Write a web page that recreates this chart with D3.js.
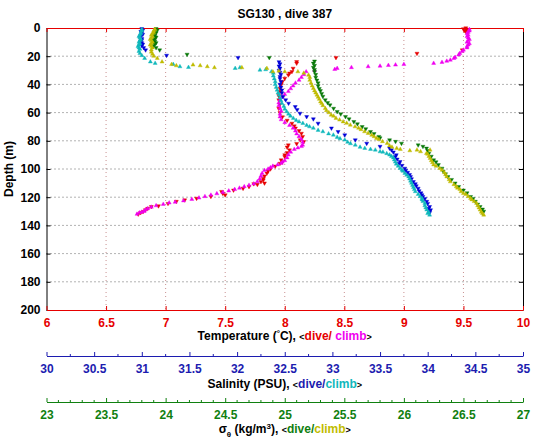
<!DOCTYPE html>
<html><head><meta charset="utf-8">
<script src="https://d3js.org/d3.v7.min.js"></script>
<style>
body{margin:0;background:#fff}
svg text{font-family:"Liberation Sans",Arial,Helvetica,sans-serif;font-weight:bold}
</style></head>
<body><svg id="c" width="535" height="442"></svg>
<script>
// ---------------- DATA (depth m, value) ----------------
const titleText = "SG130 , dive 387";
const tempTicks = [6,6.5,7,7.5,8,8.5,9,9.5,10];
const salTicks = [30,30.5,31,31.5,32,32.5,33,33.5,34,34.5,35];
const sigTicks = [23,23.5,24,24.5,25,25.5,26,26.5,27];
const depthTicks = [0,20,40,60,80,100,120,140,160,180,200];

const tempDive = [[0,9.52],[0.6,9.50],[1.2,9.53],[1.8,9.51],[2.5,9.52],[15.6,9.49],[18,9.11],[21,8.43],[23.9,8.10],[25,8.10],[28.6,8.07],[31,8.06],[32,8.04],[33.3,8.03],[35.7,8.00],[38,7.98],[40,7.97],[42.8,7.96],[45,7.96],[48,7.95],[51,7.95],[54,7.96],[57,7.95],[60,7.96],[63,7.98],[65.5,8.02],[67.6,8.06],[69.5,8.08],[71,8.09],[72.8,8.12],[74.7,8.14],[77,8.15],[79.4,8.13],[80.6,8.16],[82,8.10],[83,8.03],[84.5,8.02],[86.5,8.04],[88.5,8.02],[90,8.00],[91.3,8.00],[93.6,7.97],[95,7.98],[96,7.96],[98,7.92],[100,7.88],[101.5,7.86],[103,7.85],[105,7.83],[106.6,7.82],[107.8,7.82],[109,7.80],[110,7.83],[110.5,7.74],[111,7.77],[112.5,7.70],[113.7,7.65],[115,7.57],[116,7.47],[117.3,7.48],[118.4,7.50],[119.5,7.38],[120.8,7.26],[122,7.16],[123,7.09],[124.5,7.02],[126.2,6.94],[126.7,6.88],[128,6.85],[129,6.83],[130.3,6.81],[131,6.79],[132,6.77]];

const tempClimb = [[132,6.76],[131,6.78],[130.5,6.80],[130,6.82],[129,6.83],[128,6.85],[127,6.88],[126,6.92],[125,6.98],[124,7.03],[123.5,7.08],[122.5,7.15],[121.5,7.22],[120.5,7.28],[119.5,7.33],[118.5,7.38],[117.5,7.43],[116.5,7.48],[115.5,7.53],[114.5,7.58],[113.5,7.62],[112.5,7.66],[111.5,7.70],[110.5,7.74],[109,7.77],[107,7.79],[105,7.80],[103,7.81],[101,7.83],[100,7.86],[99,7.88],[98,7.90],[97,7.94],[96,7.97],[95,7.98],[94,8.00],[92,8.02],[90,8.03],[88,8.05],[86,8.08],[85,8.11],[84,8.14],[83,8.15],[81,8.15],[79,8.14],[77,8.12],[75,8.10],[73,8.09],[71,8.07],[69,8.04],[67,8.00],[65,7.97],[63,7.96],[61,7.96],[59,7.97],[57,7.96],[55,7.95],[53,7.95],[51,7.96],[49,7.98],[47,8.00],[45,8.03],[43,8.05],[41,8.07],[39,8.09],[37,8.12],[35,8.14],[33,8.16],[31,8.18],[30,8.25],[29.3,8.42],[28.6,8.44],[28,8.56],[27.4,8.70],[27,8.80],[26.5,8.87],[26.2,8.93],[25.8,9.00],[25,9.25],[24.3,9.32],[23.5,9.36],[22.7,9.39],[21.5,9.42],[20.8,9.43],[19,9.46],[18,9.47],[16.5,9.49],[15.6,9.50],[14,9.53],[13,9.53],[12,9.54],[11,9.55],[10,9.53],[9,9.54],[8,9.55],[7,9.54],[6,9.53],[5,9.54],[4,9.53],[3,9.54],[2,9.55],[1,9.55]];

const salDive = [[0.5,31.00],[1.5,31.01],[2.5,30.99],[3.5,31.00],[4.5,31.01],[5.5,30.99],[6.5,30.98],[7.5,31.00],[8.5,31.00],[9.5,30.99],[10.5,31.00],[11.5,31.01],[12.5,31.00],[14,31.02],[15.6,31.04],[19.4,31.26],[21,32.01],[24,32.44],[25.5,32.45],[27,32.44],[28.5,32.45],[30,32.44],[31.5,32.45],[33,32.46],[34.5,32.45],[36,32.45],[38,32.46],[40,32.45],[42,32.46],[44,32.47],[46,32.47],[48.7,32.48],[51,32.51],[53.4,32.54],[55.8,32.61],[58,32.63],[60.5,32.66],[62.9,32.73],[64.5,32.80],[67.6,32.85],[71,32.99],[73.5,33.06],[75.9,33.13],[79.4,33.24],[81.8,33.36],[84,33.50],[85.3,33.60],[86.5,33.62],[88,33.64],[90,33.67],[91.3,33.66],[93,33.68],[94.8,33.71],[96,33.70],[97.5,33.73],[99.5,33.76],[101,33.77],[102.5,33.79],[104,33.81],[105.5,33.82],[107,33.83],[109,33.85],[110.5,33.87],[112,33.88],[113.7,33.90],[115.5,33.91],[117,33.93],[118.4,33.94],[119.6,33.95],[121,33.97],[123,33.99],[124.5,34.00],[126.7,34.02],[128,34.01],[129,34.03],[130,34.02],[131,34.02]];

const salClimb = [[132.6,34.02],[131.5,34.00],[130.5,34.01],[129,33.99],[127.5,33.98],[126,33.97],[124.3,33.97],[123,33.95],[121.8,33.94],[120.8,33.94],[119.5,33.92],[118,33.90],[116,33.87],[114.5,33.86],[113,33.85],[111.5,33.84],[110,33.83],[108.5,33.82],[107,33.81],[105.5,33.80],[104.3,33.78],[103,33.76],[101.5,33.74],[100.7,33.73],[99.5,33.71],[98,33.69],[96.5,33.67],[95,33.66],[93.5,33.65],[92,33.64],[91,33.62],[90,33.60],[89,33.57],[88,33.53],[87.7,33.50],[86.5,33.45],[86,33.40],[85.3,33.34],[84.5,33.29],[83,33.24],[82,33.19],[81,33.16],[79.4,33.13],[78.5,33.08],[77.5,33.05],[75.9,33.01],[75,32.96],[73.5,32.90],[72.5,32.85],[71,32.80],[70,32.76],[69,32.73],[67.6,32.69],[66.5,32.65],[65.5,32.62],[64,32.59],[62.5,32.56],[61,32.54],[59.3,32.52],[57.5,32.50],[55.5,32.49],[53.4,32.47],[51.5,32.46],[49.5,32.45],[47.5,32.44],[46,32.43],[44,32.42],[42,32.41],[40,32.40],[38,32.40],[36,32.39],[34,32.38],[32,32.38],[31,32.36],[29.5,32.30],[29.8,32.24],[28.1,32.03],[28.6,31.98],[27.9,31.49],[27.4,31.40],[25.8,31.33],[25,31.14],[24,31.09],[21.5,31.03],[19.5,31.00],[18,30.98],[16.5,30.97],[15,30.98],[14,30.97],[13,30.96],[12,30.97],[11,30.98],[10,30.97],[9,30.98],[8,30.99],[7,30.98],[6,30.97],[5,30.98],[4,30.99],[3,30.99],[2,31.00],[1,31.00]];

const sigDive = [[0.5,23.92],[1.5,23.93],[2.5,23.91],[3.5,23.92],[4.5,23.90],[5.5,23.91],[6.5,23.92],[7.5,23.91],[8.5,23.90],[9.5,23.91],[10.5,23.92],[11.5,23.91],[12.5,23.90],[14,23.92],[15.6,23.95],[18.7,24.18],[21,24.87],[23.5,25.25],[25,25.24],[26.5,25.25],[28,25.24],[29.5,25.25],[31,25.25],[33,25.26],[35,25.26],[37,25.27],[39,25.28],[41,25.28],[43,25.29],[44.5,25.30],[46.5,25.31],[48.5,25.32],[51,25.34],[53,25.36],[54.6,25.38],[57,25.41],[59.3,25.44],[61,25.47],[62.9,25.51],[64.5,25.54],[66.4,25.58],[68,25.61],[70,25.65],[71.5,25.68],[73.5,25.72],[75,25.75],[77,25.79],[78,25.80],[79.4,25.88],[80.5,25.93],[81.8,25.98],[83,26.12],[84,26.16],[85.3,26.19],[87,26.20],[88.9,26.21],[91,26.23],[93.6,26.25],[95,26.27],[97,26.29],[99.5,26.32],[101.5,26.33],[103.5,26.35],[105.5,26.37],[107.5,26.40],[110,26.43],[112.5,26.46],[115,26.50],[117,26.53],[119.6,26.56],[121,26.58],[123,26.60],[125,26.62],[126.7,26.64],[128.5,26.66],[130,26.67],[131,26.66]];

const sigClimb = [[132.6,26.67],[131.5,26.66],[130.5,26.65],[129,26.64],[127.5,26.63],[126,26.62],[124.3,26.61],[123,26.59],[121.8,26.57],[120.8,26.56],[119.5,26.54],[118,26.52],[117.3,26.50],[116,26.48],[114.5,26.47],[113.5,26.45],[112.5,26.44],[111,26.42],[109,26.39],[107.5,26.38],[105.5,26.36],[104,26.35],[102.5,26.34],[100.7,26.32],[99.5,26.30],[98,26.27],[97,26.25],[95.5,26.24],[94,26.23],[92.4,26.22],[91,26.21],[89.5,26.20],[88.9,26.19],[87.7,26.14],[87,26.05],[86.5,26.22],[86.5,26.11],[86,25.97],[85.3,25.94],[84.5,25.90],[83.5,25.88],[81.8,25.86],[80.5,25.82],[79,25.79],[78.2,25.77],[77,25.75],[76,25.73],[74.7,25.70],[73.5,25.67],[72,25.64],[71,25.62],[70,25.59],[68.8,25.55],[67.5,25.52],[66.5,25.49],[65.2,25.46],[64,25.43],[62.5,25.41],[61.7,25.39],[60,25.37],[58.5,25.35],[57,25.34],[55,25.32],[53.5,25.31],[52.3,25.30],[50.5,25.29],[49,25.28],[47.5,25.27],[46,25.26],[44.5,25.25],[42.8,25.24],[41,25.23],[39,25.22],[37,25.21],[35,25.21],[33.4,25.20],[32,25.16],[31,25.11],[31,25.00],[30.5,24.95],[31,24.90],[28.6,24.85],[28.1,24.64],[28.1,24.41],[27.4,24.35],[26.7,24.29],[26.2,24.23],[26.7,24.09],[25.8,24.05],[24,23.97],[21.5,23.93],[20,23.90],[18.5,23.89],[17,23.88],[15.5,23.88],[14,23.89],[13,23.88],[12,23.87],[11,23.88],[10,23.89],[9,23.88],[8,23.87],[7,23.88],[6,23.89],[5,23.88],[4,23.89],[3,23.90],[2,23.90],[1,23.91]];

// ---------------- LAYOUT ----------------
const X0 = 46.5, X1 = 523, Y0 = 28, Y1 = 310;
const ySal = 356, ySig = 402;
const cRed = "#e60000", cMag = "#f000f0", cBlue = "#0000d8", cCyan = "#10b8bc",
      cGreen = "#087808", cYel = "#c0bc00", cBlueAx = "#1c1cb0", cGreenAx = "#108010";

const svg = d3.select("#c");
svg.append("rect").attr("width",535).attr("height",442).attr("fill","#fff");

const tS = d3.scaleLinear().domain([6,10]).range([X0,X1]);
const sS = d3.scaleLinear().domain([30,35]).range([X0,X1]);
const gS = d3.scaleLinear().domain([23,27]).range([X0,X1]);
const yS = d3.scaleLinear().domain([0,200]).range([Y0,Y1]);

// grid
svg.append("g").selectAll("line").data(tempTicks.slice(1,-1)).join("line")
  .attr("x1",d=>tS(d)).attr("x2",d=>tS(d)).attr("y1",Y0).attr("y2",Y1)
  .attr("stroke","#c89090").attr("stroke-width",1).attr("stroke-dasharray","1,3");
svg.append("g").selectAll("line").data(depthTicks.slice(1,-1)).join("line")
  .attr("x1",X0).attr("x2",X1).attr("y1",d=>yS(d)).attr("y2",d=>yS(d))
  .attr("stroke","#666").attr("stroke-width",1).attr("stroke-dasharray","1,3");

function styleAxis(g, color, fs){
  g.attr("font-family",null).attr("font-size",null);
  g.select(".domain").attr("stroke",color).attr("stroke-width",1);
  g.selectAll(".tick line").attr("stroke",color);
  g.selectAll(".tick text").attr("fill",color).style("font-size",fs+"px");
}
const fmt = d=>String(d);

// left & right (black)
const gL = svg.append("g").attr("transform",`translate(${X0},0)`)
  .call(d3.axisLeft(yS).tickValues(depthTicks).tickSize(-4).tickSizeOuter(0).tickPadding(6).tickFormat(fmt));
styleAxis(gL,"#000",12);
const gR = svg.append("g").attr("transform",`translate(${X1},0)`)
  .call(d3.axisRight(yS).tickValues(depthTicks).tickSize(-4).tickSizeOuter(0).tickFormat(""));
styleAxis(gR,"#000",12);
// top & bottom (red)
const gT = svg.append("g").attr("transform",`translate(0,${Y0})`)
  .call(d3.axisTop(tS).tickValues(tempTicks).tickSize(-4).tickSizeOuter(0).tickFormat(""));
styleAxis(gT,cRed,12);
const gB = svg.append("g").attr("transform",`translate(0,${Y1})`)
  .call(d3.axisBottom(tS).tickValues(tempTicks).tickSize(-4).tickSizeOuter(0).tickPadding(8).tickFormat(fmt));
styleAxis(gB,cRed,12);

// salinity axis
const salMinor = d3.range(30.25,35,0.5);
svg.append("g").selectAll("line").data(salMinor).join("line")
  .attr("x1",d=>sS(d)).attr("x2",d=>sS(d)).attr("y1",ySal).attr("y2",ySal-2).attr("stroke",cBlueAx);
const gSal = svg.append("g").attr("transform",`translate(0,${ySal})`)
  .call(d3.axisBottom(sS).tickValues(salTicks).tickSize(-4).tickSizeOuter(0).tickPadding(8).tickFormat(fmt));
styleAxis(gSal,cBlueAx,12);

// sigma axis
const sigMinor = d3.range(231,270,1).filter(v=>v%5!==0).map(v=>v/10);
svg.append("g").selectAll("line").data(sigMinor).join("line")
  .attr("x1",d=>gS(d)).attr("x2",d=>gS(d)).attr("y1",ySig).attr("y2",ySig-2).attr("stroke",cGreenAx);
const gSig = svg.append("g").attr("transform",`translate(0,${ySig})`)
  .call(d3.axisBottom(gS).tickValues(sigTicks).tickSize(-4).tickSizeOuter(0).tickPadding(8).tickFormat(fmt));
styleAxis(gSig,cGreenAx,12);

// markers
const triUp = d3.symbol().type(d3.symbolTriangle).size(7)();
function drawSeries(data, scale, color, down){
  svg.append("g").selectAll("path").data(data).join("path")
    .attr("d",triUp)
    .attr("transform",d=>`translate(${scale(d[1])},${yS(d[0])})${down?" rotate(180)":""}`)
    .attr("fill",color).attr("stroke",color).attr("stroke-width",0.4);
}
drawSeries(tempDive,tS,cRed,true);
drawSeries(tempClimb,tS,cMag,false);
drawSeries(salDive,sS,cBlue,true);
drawSeries(salClimb,sS,cCyan,false);
drawSeries(sigDive,gS,cGreen,true);
drawSeries(sigClimb,gS,cYel,false);

// title
svg.append("text").attr("x",(X0+X1)/2).attr("y",18).attr("text-anchor","middle")
  .style("font-size","12px").attr("fill","#000").text(titleText);

// y label
svg.append("text").attr("transform",`translate(13,${(Y0+Y1)/2}) rotate(-90)`)
  .attr("text-anchor","middle").style("font-size","12px").text("Depth (m)");

// axis titles
function titled(y, parts){
  const t = svg.append("text").attr("x",(X0+X1)/2).attr("y",y).attr("text-anchor","middle").style("font-size","12px");
  parts.forEach(p=>{
    const s = t.append("tspan").text(p.t).attr("fill",p.c||"#000");
    if(p.fs) s.style("font-size",p.fs+"px");
    if(p.dy) s.attr("dy",p.dy);
  });
}
titled(340,[{t:"Temperature ("},{t:"°",fs:8,dy:-4},{t:"C), ",dy:4},{t:"<",fs:9},{t:"dive/",c:cRed},{t:" climb",c:cMag},{t:">",fs:9}]);
titled(388,[{t:"Salinity (PSU), "},{t:"<",fs:9},{t:"dive/",c:cBlueAx},{t:"climb",c:cCyan},{t:">",fs:9}]);
titled(433,[{t:"σ"},{t:"θ",fs:8,dy:4},{t:" (kg/m",dy:-4},{t:"3",fs:8,dy:-4},{t:"), ",dy:4},{t:"<",fs:9},{t:"dive/",c:cGreenAx},{t:"climb",c:cYel},{t:">",fs:9}]);
</script></body></html>
